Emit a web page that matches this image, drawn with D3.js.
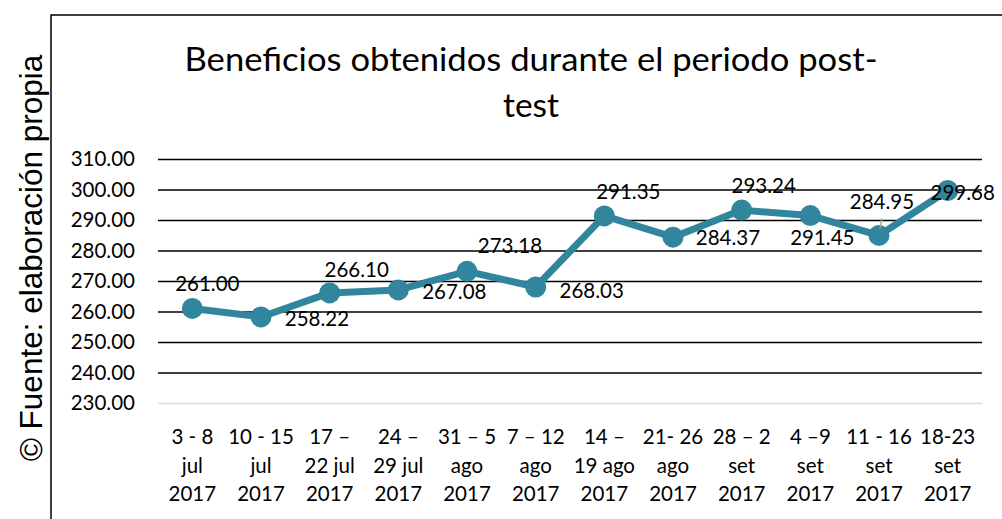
<!DOCTYPE html>
<html lang="es">
<head>
<meta charset="UTF-8"/>
<title>Beneficios post-test</title>
<script src="https://d3js.org/d3.v7.min.js"></script>
<style>
  body { margin: 0; background: #fff; }
  svg { display: block; }
  text { font-family: "Lato", "Liberation Sans", sans-serif; fill: #000; }
  text.fuente { font-family: "Liberation Sans", Arial, sans-serif; }
</style>
</head>
<body>
<script>
  // data
  var categories = [
    ["3 - 8", "jul", "2017"],
    ["10 - 15", "jul", "2017"],
    ["17 \u2013", "22 jul", "2017"],
    ["24 \u2013", "29 jul", "2017"],
    ["31 \u2013 5", "ago", "2017"],
    ["7 \u2013 12", "ago", "2017"],
    ["14 \u2013", "19 ago", "2017"],
    ["21- 26", "ago", "2017"],
    ["28 \u2013 2", "set", "2017"],
    ["4 \u20139", "set", "2017"],
    ["11 - 16", "set", "2017"],
    ["18-23", "set", "2017"]
  ];
  var beneficios = [261.00, 258.22, 266.10, 267.08, 273.18, 268.03, 291.35, 284.37, 293.24, 291.45, 284.95, 299.68];
  var yTicks = [230, 240, 250, 260, 270, 280, 290, 300, 310];

  // where each data label sits relative to its point (copied from the excel layout)
  var labelOffset = [[15,-25],[56,1],[27,-24],[56,1],[43,-26],[56,3],[24,-25],[55,0],[22,-25],[12,21],[3,-34],[15,2]];

  var w = 1002, h = 519;
  var svg = d3.select("body").append("svg").attr("width", w).attr("height", h);

  // chart frame
  svg.append("path")
    .attr("d", "M51," + h + "V15H" + w)
    .attr("fill", "none").attr("stroke", "#000").attr("stroke-width", 1.5);

  // title
  var title = svg.append("text").attr("text-anchor", "middle").attr("font-size", "33px");
  title.append("tspan").attr("x", 531).attr("y", 71)
    .attr("textLength", 693).attr("lengthAdjust", "spacingAndGlyphs")
    .text("Beneficios obtenidos durante el periodo post-");
  title.append("tspan").attr("x", 531).attr("y", 117)
    .attr("textLength", 56).attr("lengthAdjust", "spacingAndGlyphs")
    .text("test");

  // source note on the left
  svg.append("text")
    .attr("class", "fuente")
    .attr("transform", "translate(42,258) rotate(-90)")
    .attr("text-anchor", "middle")
    .attr("font-size", "31.5px")
    .text("\u00a9 Fuente: elaboraci\u00f3n propia");

  var xScale = d3.scaleBand()
    .domain(d3.range(categories.length))
    .range([158, 982]);

  var yScale = d3.scaleLinear()
    .domain([230, 310])
    .range([403, 159]);

  // gridlines + y labels
  var yAxis = svg.append("g")
    .attr("transform", "translate(158,0)")
    .call(d3.axisLeft(yScale).tickValues(yTicks).tickSize(-824).tickPadding(23).tickFormat(d3.format(".2f")));
  yAxis.select(".domain").remove();
  yAxis.selectAll(".tick line")
    .attr("stroke", function(d){ return d === 230 ? "#d9d9d9" : "#000"; })
    .attr("stroke-width", 1.6);
  yAxis.selectAll(".tick text")
    .attr("font-size", "20.5px")
    .attr("fill", "#000");

  // category labels, three lines each
  var xAxis = svg.append("g")
    .attr("transform", "translate(0,403)")
    .call(d3.axisBottom(xScale).tickSize(0).tickFormat(""));
  xAxis.select(".domain").remove();
  xAxis.selectAll(".tick text").remove();
  xAxis.selectAll(".tick").append("text")
    .attr("text-anchor", "middle")
    .attr("font-size", "20.5px")
    .attr("fill", "#000")
    .selectAll("tspan")
    .data(function(i){ return categories[i]; })
    .enter().append("tspan")
    .attr("x", 0)
    .attr("y", function(d, j){ return 41 + j * 28.5; })
    .text(function(d){ return d; });

  var cx = function(d, i){ return xScale(i) + xScale.bandwidth() / 2; };
  var cy = function(d){ return yScale(d); };

  var line = d3.line().x(cx).y(cy);
  svg.append("path")
    .datum(beneficios)
    .attr("d", line)
    .attr("fill", "none")
    .attr("stroke", "#31859c")
    .attr("stroke-width", 7)
    .attr("stroke-linejoin", "round");

  svg.selectAll("circle").data(beneficios).enter().append("circle")
    .attr("cx", cx)
    .attr("cy", cy)
    .attr("r", 10.5)
    .attr("fill", "#31859c");

  // small leader line on the 11th point
  svg.append("line")
    .attr("x1", xScale(10) + xScale.bandwidth() / 2 + 1).attr("y1", yScale(beneficios[10]) - 7)
    .attr("x2", xScale(10) + xScale.bandwidth() / 2 + 3).attr("y2", yScale(beneficios[10]) - 17)
    .attr("stroke", "#a6a6a6").attr("stroke-width", 1.5);

  svg.selectAll("text.lbl").data(beneficios).enter().append("text")
    .attr("class", "lbl")
    .attr("text-anchor", "middle")
    .attr("dominant-baseline", "central")
    .attr("font-size", "20.5px")
    .attr("x", function(d, i){ return cx(d, i) + labelOffset[i][0]; })
    .attr("y", function(d, i){ return cy(d) + labelOffset[i][1]; })
    .text(function(d){ return d.toFixed(2); });
</script>
</body>
</html>
